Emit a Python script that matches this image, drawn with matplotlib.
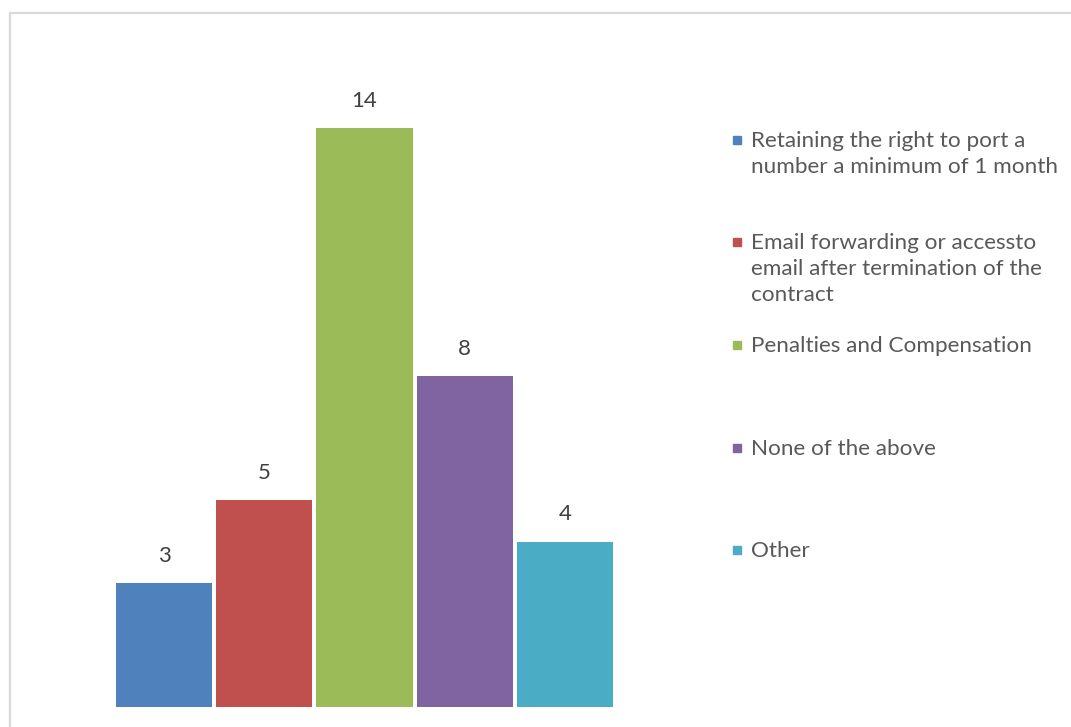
import matplotlib.pyplot as plt
from matplotlib.patches import Rectangle

categories = [
    "Retaining the right to port a\nnumber a minimum of 1 month",
    "Email forwarding or accessto\nemail after termination of the\ncontract",
    "Penalties and Compensation",
    "None of the above",
    "Other",
]
values = [3, 5, 14, 8, 4]
colors = ["#4F81BD", "#C0504D", "#9BBB59", "#8064A2", "#4BACC6"]

plt.rcParams['font.family'] = ['Lato', 'DejaVu Sans']

W, H = 1071, 727
fig = plt.figure(figsize=(W / 100, H / 100), dpi=100)


def px(x0, y0, x1, y1):
    # pixel box (top-left origin) -> figure fraction rect
    return [x0 / W, 1 - y1 / H, (x1 - x0) / W, (y1 - y0) / H]


ax = fig.add_axes(px(114, 45, 615, 707))
x = range(len(values))
bars = ax.bar(x, values, width=0.96, color=colors)
for b, v in zip(bars, values):
    ax.annotate(str(v), (b.get_x() + b.get_width() / 2, v),
                xytext=(0, 19.5), textcoords='offset points',
                ha='center', va='center', fontsize=16, color='#404040')
ax.set_xlim(-0.5, len(values) - 0.5)
ax.set_ylim(0, 16)
ax.axis('off')

# outer border of the chart area (right and bottom edges fall outside the image)
fig.add_artist(Rectangle((9.5 / W, -0.1), 1.2, 1.1 - 13.5 / H,
                         transform=fig.transFigure, fill=False,
                         edgecolor='#D9D9D9', linewidth=1.6))

# legend on the right, first line of each entry aligned with its marker
legend_y = [140, 242, 345, 448, 550]
for lab, c, yy in zip(categories, colors, legend_y):
    fig.add_artist(Rectangle((733 / W, 1 - (yy + 4) / H), 8 / W, 8 / H,
                             transform=fig.transFigure, color=c))
    fig.text(751 / W, 1 - (yy - 9) / H, lab, ha='left', va='top',
             fontsize=16.2, color='#595959', linespacing=1.39)

fig.savefig('out.png', dpi=100)
